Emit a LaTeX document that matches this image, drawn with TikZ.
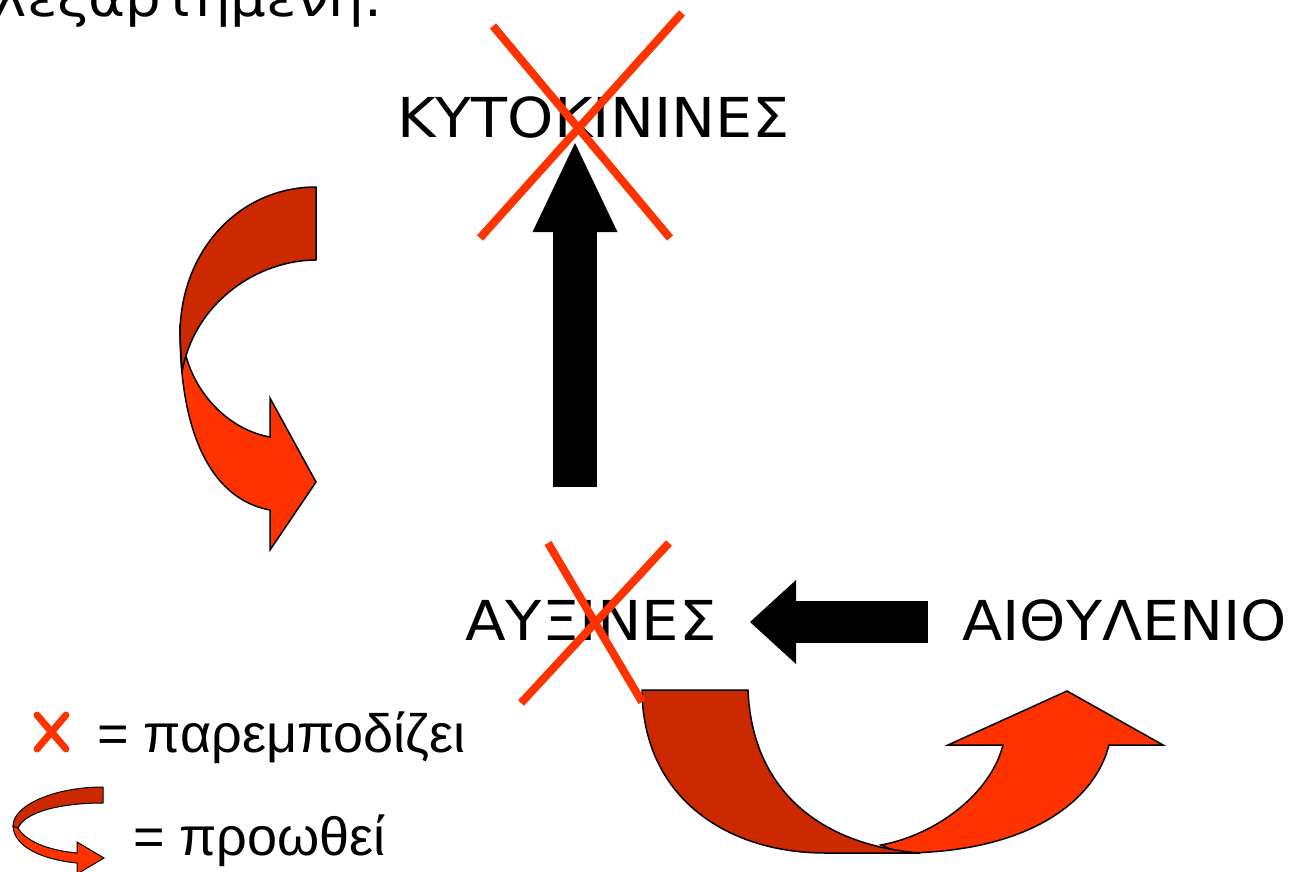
\documentclass[tikz,border=0pt]{standalone}
\usepackage{fontspec}
\setmainfont{Liberation Sans}
\newfontfamily\labelfont{DejaVu Sans}
\newfontfamily\headfont{DejaVu Sans}
\usetikzlibrary{arrows.meta}
\definecolor{crossred}{HTML}{FF3300}
\definecolor{bandfront}{HTML}{FF3300}
\definecolor{bandback}{HTML}{CC2900}

\begin{document}
\begin{tikzpicture}[x=1pt,y=-1pt,
  hormone/.style={font=\labelfont\fontsize{55}{60}\selectfont, inner sep=0pt, anchor=base west},
  legendtext/.style={font=\fontsize{54}{60}\selectfont, inner sep=0pt, anchor=base west},
  cross/.style={draw=crossred, line width=8pt},
  legendcross/.style={draw=crossred, line width=7pt, line cap=round},
  back/.style={fill=bandback, draw=black, line width=1.5pt, line join=round},
  front/.style={fill=bandfront, draw=black, line width=1.5pt, line join=miter},
]
\useasboundingbox (0,0) rectangle (1295,872);
\clip (0,0) rectangle (1295,872);

% heading line running off the top of the page
\node[font=\headfont\fontsize{52}{56}\selectfont, inner sep=0pt, anchor=base east]
  (heading) at (382,17) {\scalebox{1.08}[1]{λεξαρτημένη.}};

% hormones
\node[hormone] (kyto) at (397,138) {\scalebox{1.07}[1]{ΚΥΤΟΚΙΝΙΝΕΣ}};
\node[hormone] (auxi) at (465,640) {\scalebox{1.08}[1]{ΑΥΞΙΝΕΣ}};
\node[hormone] (aith) at (962,640) {\scalebox{1.07}[1]{ΑΙΘΥΛΕΝΙΟ}};

% block arrows
\coordinate (upTail) at (575,487);
\coordinate (upTip) at (575,143);
\draw[line width=44pt, -{Triangle[width=85pt,length=89pt,line width=0pt]}] (upTail) -- (upTip);
\coordinate (leftTail) at (928,622);
\coordinate (leftTip) at (750,622);
\draw[line width=42pt, -{Triangle[width=84pt,length=46pt,line width=0pt]}] (leftTail) -- (leftTip);

% curved arrow, left side
\path[front] (180,330) .. controls (180,440) and (215,500) .. (270,510) -- (270,550)
  -- (316,482) -- (270,398) -- (270,437) .. controls (230,430) and (195,395) .. (185,352) -- cycle;
\path[back] (316,187) -- (316,260) .. controls (260,260) and (195,300) .. (182,372)
  -- (180,335) .. controls (180,250) and (240,187) .. (316,187) -- cycle;

% curved arrow, bottom
\path[front] (900,853) .. controls (1030,853) and (1095,800) .. (1109,745) -- (1163,745)
  -- (1067,691) -- (948,745) -- (1003,745) .. controls (990,795) and (935,835) .. (881,845) -- cycle;
\path[back] (642,690) -- (748,690) .. controls (752,790) and (820,845) .. (920,853)
  -- (825,853) .. controls (730,853) and (643,800) .. (642,690) -- cycle;

% crossings-out
\draw[cross] (493,26) -- (670,238);
\draw[cross] (682,13) -- (480,238);
\draw[cross] (548,543) -- (642,702);
\draw[cross] (669,543) -- (521,703);

% legend
\draw[legendcross] (37,715) -- (66,749);
\draw[legendcross] (66,715) -- (37,749);
\node[legendtext] (hinder) at (97,752) {= παρεμποδίζει};
\path[front, line width=1pt] (13,826) .. controls (14,848) and (45,860) .. (77,863) -- (77,874)
  -- (104,858) -- (77,842) -- (77,853) .. controls (45,850) and (25,840) .. (18,828) -- cycle;
\path[back, line width=1pt] (103,787) -- (103,803) .. controls (60,803) and (25,812) .. (18,828)
  -- (13,826) .. controls (13,805) and (55,787) .. (103,787) -- cycle;
\node[legendtext] (promote) at (133,855) {= προωθεί};
\end{tikzpicture}
\end{document}
